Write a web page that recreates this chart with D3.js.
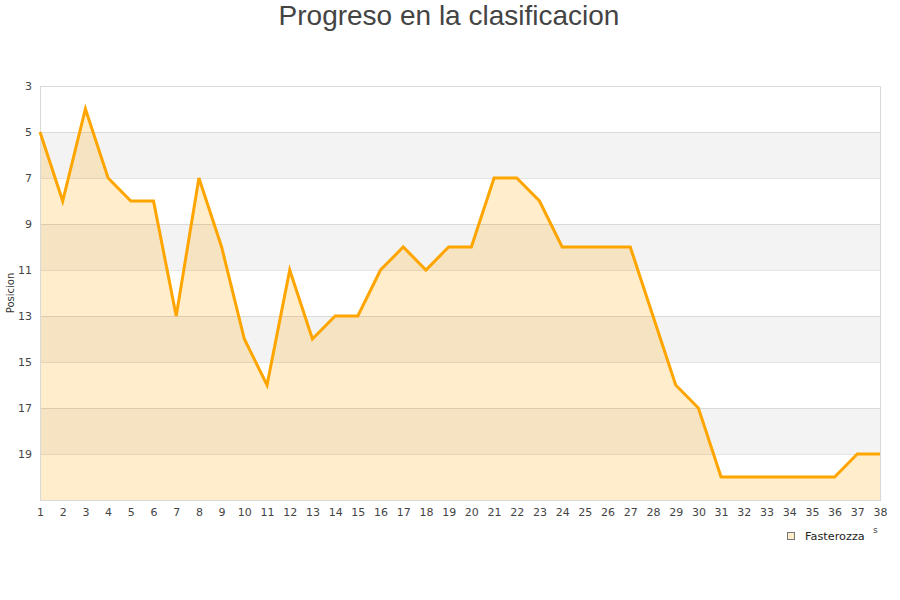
<!DOCTYPE html>
<html><head><meta charset="utf-8">
<script src="https://cdn.jsdelivr.net/npm/d3@7"></script>
<style>body{margin:0;background:#fff;} svg{display:block;}</style>
</head><body>
<svg id="c" width="900" height="600"></svg>
<script>
const jornadas = d3.range(1, 39);
const posiciones = [5,8,4,7,8,8,13,7,10,14,16,11,14,13,13,11,10,11,10,10,7,7,8,10,10,10,10,13,16,17,20,20,20,20,20,20,19,19];
const yTicks = [3,5,7,9,11,13,15,17,19];
const seriesName = "Fasterozza";
const titleText = "Progreso en la clasificacion";
const yTitle = "Posicion";

const svg = d3.select("#c");
const L = 40, R = 880, T = 86, B = 500;
const x = d3.scaleLinear().domain([1, 38]).range([L, R]);
const y = d3.scaleLinear().domain([3, 21]).range([T, B]);

// alternating bands
const bands = [[5,7],[9,11],[13,15],[17,19]];
svg.append("g").selectAll("rect").data(bands).join("rect")
  .attr("x", L).attr("width", R - L)
  .attr("y", d => y(d[0])).attr("height", d => y(d[1]) - y(d[0]))
  .attr("fill", "#f3f3f3");

// area
const data = jornadas.map((j, i) => ({j, p: posiciones[i]}));
svg.append("path").datum(data)
  .attr("d", d3.area().x(d => x(d.j)).y0(y(21)).y1(d => y(d.p)))
  .attr("fill", "rgba(255,165,0,0.2)");

// gridlines
svg.append("g").selectAll("line").data(yTicks).join("line")
  .attr("x1", L).attr("x2", R)
  .attr("y1", d => y(d) + 0.5).attr("y2", d => y(d) + 0.5)
  .attr("stroke", "rgba(0,0,0,0.1)").attr("stroke-width", 1);

// border
svg.append("rect").attr("x", L + 0.5).attr("y", T + 0.5)
  .attr("width", R - L).attr("height", B - T)
  .attr("fill", "none").attr("stroke", "#d9d9d9");

// line
svg.append("path").datum(data)
  .attr("d", d3.line().x(d => x(d.j)).y(d => y(d.p)))
  .attr("fill", "none").attr("stroke", "#ffa500").attr("stroke-width", 3)
  .attr("stroke-linejoin", "miter");

// y axis labels
const yAxis = svg.append("g").attr("transform", `translate(${L - 8},0)`)
  .call(d3.axisLeft(y).tickValues(yTicks).tickSize(0).tickPadding(0));
yAxis.select(".domain").remove();
yAxis.selectAll("text").attr("font-family", "DejaVu Sans").attr("font-size", 11).attr("fill", "#444");

// x axis labels
const xAxis = svg.append("g").attr("transform", `translate(0,${B + 8})`)
  .call(d3.axisBottom(x).tickValues(jornadas).tickSize(0).tickPadding(0).tickFormat(d3.format("d")));
xAxis.select(".domain").remove();
xAxis.selectAll("text").attr("font-family", "DejaVu Sans").attr("font-size", 11).attr("fill", "#444").attr("dy", "0.71em");

// y title
svg.append("text").attr("transform", "translate(14,293) rotate(-90)")
  .attr("text-anchor", "middle").attr("font-family", "DejaVu Sans").attr("font-size", 10).attr("fill", "#333")
  .text(yTitle);

// title
svg.append("text").attr("x", 449).attr("y", 25).attr("text-anchor", "middle")
  .attr("font-family", "Liberation Sans, Arial, sans-serif").attr("font-size", 28).attr("fill", "#444")
  .text(titleText);

// legend
const lg = svg.append("g");
lg.append("rect").attr("x", 787.5).attr("y", 532.5).attr("width", 7).attr("height", 7)
  .attr("fill", "#ffedcc").attr("stroke", "#777");
lg.append("text").attr("x", 805).attr("y", 540).attr("font-family", "DejaVu Sans").attr("font-size", 11.3).attr("fill", "#222")
  .text(seriesName);
svg.append("text").attr("x", 873).attr("y", 533).attr("font-family", "DejaVu Sans").attr("font-size", 9).attr("fill", "#444").text("s");
</script>
</body></html>
